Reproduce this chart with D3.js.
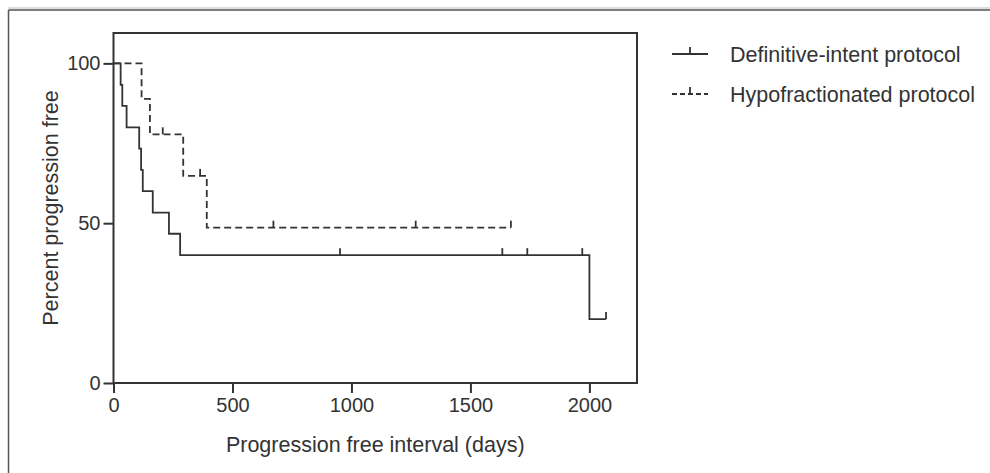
<!DOCTYPE html>
<html><head><meta charset="utf-8">
<script src="https://cdn.jsdelivr.net/npm/d3@7"></script>
<style>body{margin:0;background:#fff} text{font-family:"Liberation Sans",Arial,sans-serif;fill:#333}</style>
</head><body><svg id="c" width="990" height="473"></svg>
<script>
const xTicks=[0,500,1000,1500,2000];
const yTicks=[0,50,100];
const seriesNames=["Definitive-intent protocol","Hypofractionated protocol"];
const defStepTimes=[0,30,37,55,108,116,123,165,233,280,2000];
const defStepPct=[100,93.3,86.7,80,73.3,66.7,60,53.3,46.7,40,20];
const defEnd=2070;
const defCensorTimes=[952,1634,1739,1970,2070];
const defCensorPct=[40,40,40,40,20];
const hypoStepTimes=[0,118,153,293,392];
const hypoStepPct=[100,88.9,77.8,64.8,48.6];
const hypoEnd=1670;
const hypoCensorTimes=[207,364,672,1270,1670];
const hypoCensorPct=[77.8,64.8,48.6,48.6,48.6];

const svg=d3.select("#c");
const ink="#333";
svg.append("line").attr("x1",8).attr("x2",990).attr("y1",8).attr("y2",8).attr("stroke","#bbb").attr("stroke-width",1);
svg.append("line").attr("x1",8.5).attr("x2",990).attr("y1",10).attr("y2",10).attr("stroke","#555").attr("stroke-width",1.5);
svg.append("line").attr("x1",8.5).attr("x2",8.5).attr("y1",10).attr("y2",473).attr("stroke","#555").attr("stroke-width",1.5);

const x=d3.scaleLinear().domain([0,2200]).range([113.5,637]);
const y=d3.scaleLinear().domain([0,109.5]).range([383,33]);

svg.append("rect").attr("x",x(0)).attr("y",y(109.5)).attr("width",x(2200)-x(0)).attr("height",y(0)-y(109.5))
  .attr("fill","none").attr("stroke",ink).attr("stroke-width",2);

const xa=svg.append("g").attr("transform",`translate(0,${y(0)})`)
  .call(d3.axisBottom(x).tickValues(xTicks).tickSize(10).tickPadding(5).tickFormat(d3.format("d")));
const ya=svg.append("g").attr("transform",`translate(${x(0)},0)`)
  .call(d3.axisLeft(y).tickValues(yTicks).tickSize(10).tickPadding(3).tickFormat(d3.format("d")));
[xa,ya].forEach(g=>{
  g.select(".domain").remove();
  g.selectAll(".tick line").attr("stroke",ink).attr("stroke-width",2);
  g.selectAll(".tick text").attr("font-size",20).attr("fill",ink).style("font-family","'Liberation Sans',Arial,sans-serif");
});

svg.append("text").attr("x",(x(0)+x(2200))/2).attr("y",452).attr("text-anchor","middle").attr("font-size",21.5).text("Progression free interval (days)");
svg.append("text").attr("transform",`translate(58,${(y(0)+y(109.5))/2}) rotate(-90)`).attr("text-anchor","middle").attr("font-size",21.5).text("Percent progression free");

const line=d3.line().x(d=>x(d[0])).y(d=>y(d[1])).curve(d3.curveStepAfter);
function draw(times,pcts,end,cT,cP,dash){
  const pts=times.map((t,i)=>[t,pcts[i]]);
  pts.push([end,pcts[pcts.length-1]]);
  const g=svg.append("g");
  g.append("path").attr("d",line(pts)).attr("fill","none").attr("stroke",ink).attr("stroke-width",1.8)
    .attr("stroke-dasharray",dash);
  g.selectAll("line.c").data(cT.map((t,i)=>[t,cP[i]])).enter().append("line")
    .attr("x1",d=>x(d[0])).attr("x2",d=>x(d[0])).attr("y1",d=>y(d[1])).attr("y2",d=>y(d[1])-7)
    .attr("stroke",ink).attr("stroke-width",1.8);
}
draw(defStepTimes,defStepPct,defEnd,defCensorTimes,defCensorPct,null);
draw(hypoStepTimes,hypoStepPct,hypoEnd,hypoCensorTimes,hypoCensorPct,"7,4");

const leg=svg.append("g");
const ly=[54,94];
seriesNames.forEach((n,i)=>{
  leg.append("line").attr("x1",672).attr("x2",708).attr("y1",ly[i]).attr("y2",ly[i]).attr("stroke",ink).attr("stroke-width",1.8)
    .attr("stroke-dasharray",i?"5,3":null);
  leg.append("line").attr("x1",690).attr("x2",690).attr("y1",ly[i]).attr("y2",ly[i]-7).attr("stroke",ink).attr("stroke-width",1.8);
  leg.append("text").attr("x",730).attr("y",ly[i]+7.5).attr("font-size",21.5).text(n);
});
</script></body></html>
